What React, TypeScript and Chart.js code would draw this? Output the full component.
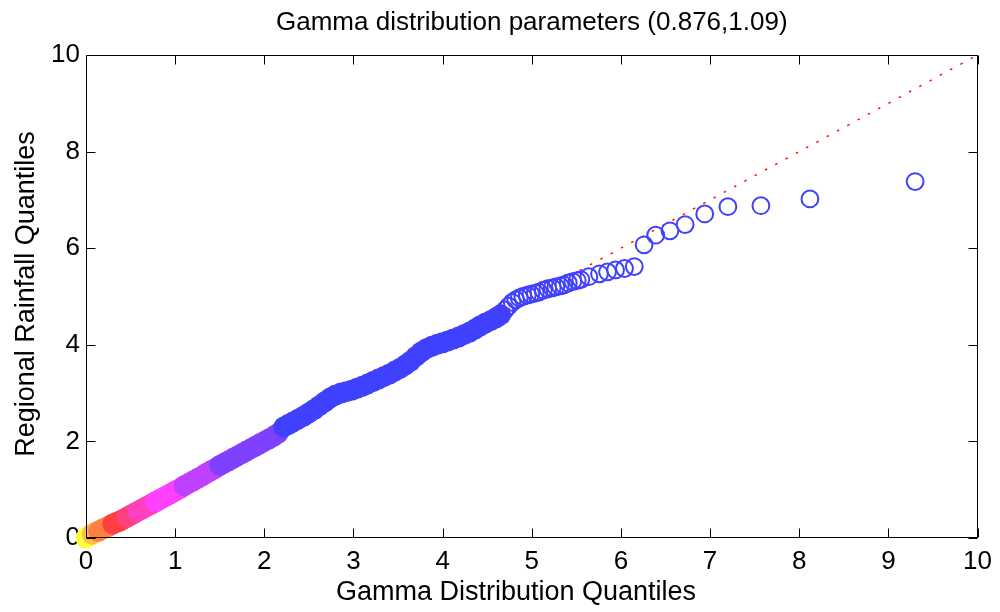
import { useEffect, useRef } from "react";
import { Chart, registerables } from "chart.js";

Chart.register(...registerables);

const FONT = '"Liberation Sans", Arial, Helvetica, sans-serif';

const chartTitle = "Gamma distribution parameters (0.876,1.09)";
const xAxisTitle = "Gamma Distribution Quantiles";
const yAxisTitle = "Regional Rainfall Quantiles";

const xTickValues = [0, 1, 2, 3, 4, 5, 6, 7, 8, 9, 10];
const yTickValues = [0, 2, 4, 6, 8, 10];

// Theoretical gamma quantiles (x) and sorted regional rainfall (y)
const gammaQuantiles = [
  0.0, 0.02, 0.04,
  0.07, 0.1,
  0.14, 0.18, 0.22, 0.26,
  0.3, 0.34, 0.38, 0.42,
  0.46, 0.5, 0.54,
  0.58, 0.62, 0.66, 0.7, 0.74,
  0.78, 0.82, 0.86, 0.9, 0.94, 0.98, 1.02, 1.06,
  1.1, 1.15, 1.2, 1.25, 1.3, 1.35, 1.4, 1.45,
  1.5, 1.55, 1.6, 1.65, 1.7, 1.75, 1.8, 1.85, 1.9, 1.95, 2.0, 2.05, 2.1, 2.15,
  2.22, 2.27, 2.32, 2.38, 2.44, 2.5, 2.56, 2.62, 2.68, 2.74, 2.8, 2.86, 2.92, 2.98,
  3.04, 3.1, 3.16, 3.22, 3.28, 3.34, 3.4, 3.46, 3.52, 3.58, 3.64, 3.7, 3.76, 3.82,
  3.88, 3.94, 4.0, 4.06, 4.12, 4.18, 4.24, 4.3, 4.36, 4.42, 4.48, 4.54, 4.6, 4.65,
  4.7, 4.74, 4.78, 4.82, 4.86, 4.9, 4.95, 4.99, 5.04, 5.08, 5.13, 5.18, 5.23, 5.27,
  5.32, 5.36, 5.41, 5.46, 5.51, 5.55, 5.64, 5.76, 5.85, 5.94, 6.04, 6.15, 6.26, 6.39,
  6.55, 6.72, 6.94, 7.2, 7.57, 8.12, 9.3,
];
const rainfallQuantiles = [
  0.0, 0.03, 0.05,
  0.08, 0.11,
  0.14, 0.18, 0.21, 0.25,
  0.29, 0.32, 0.35, 0.39,
  0.43, 0.47, 0.51,
  0.55, 0.59, 0.63, 0.67, 0.71,
  0.75, 0.79, 0.83, 0.87, 0.91, 0.95, 0.99, 1.03,
  1.08, 1.13, 1.18, 1.23, 1.28, 1.34, 1.39, 1.44,
  1.5, 1.55, 1.6, 1.65, 1.7, 1.75, 1.8, 1.85, 1.9, 1.95, 2.0, 2.05, 2.1, 2.16,
  2.3, 2.35, 2.4, 2.46, 2.52, 2.59, 2.66, 2.74, 2.82, 2.9, 2.96, 3.0, 3.03, 3.06,
  3.1, 3.14, 3.19, 3.24, 3.29, 3.34, 3.39, 3.45, 3.51, 3.58, 3.66, 3.76, 3.85, 3.92,
  3.97, 4.01, 4.04, 4.08, 4.12, 4.16, 4.21, 4.26, 4.32, 4.39, 4.45, 4.5, 4.56, 4.62,
  4.72, 4.8, 4.88, 4.93, 4.97, 5.0, 5.03, 5.05, 5.07, 5.09, 5.13, 5.16, 5.18, 5.2,
  5.22, 5.24, 5.28, 5.31, 5.33, 5.35, 5.41, 5.47, 5.51, 5.55, 5.58, 5.62, 6.07, 6.27,
  6.36, 6.49, 6.71, 6.86, 6.88, 7.02, 7.38,
];

// Consecutive colour classes along the sorted sample
const classSizes = [3, 2, 4, 4, 3, 5, 8, 8, 14, 42, 35];
const classColors = [
  "#ffff40", "#ffbf40", "#ff8040", "#ff4040", "#ff4080", "#ff40bf",
  "#ff40ff", "#bf40ff", "#8040ff", "#4040ff", "#4040ff",
];
const classFilled = [true, true, true, true, true, true, true, true, true, true, false];

// Reference line y = x
const refLineX = [0, 10];
const refLineY = [0, 10];

const axesDecor = {
  id: "axesDecor",
  afterDatasetsDraw(chart: any) {
    const { ctx, chartArea: a, scales } = chart;
    const L = Math.round(a.left) + 0.5;
    const R = Math.round(a.right) - 0.5;
    const T = Math.round(a.top) + 0.5;
    const B = Math.round(a.bottom) - 0.5;
    const tick = 9;
    ctx.save();
    ctx.strokeStyle = "#000";
    ctx.lineWidth = 1;
    ctx.beginPath();
    ctx.rect(L, T, R - L, B - T);
    for (const v of xTickValues) {
      const px = Math.round(scales.x.getPixelForValue(v)) + 0.5;
      ctx.moveTo(px, B);
      ctx.lineTo(px, B - tick);
      ctx.moveTo(px, T);
      ctx.lineTo(px, T + tick);
    }
    for (const v of yTickValues) {
      const py = Math.round(scales.y.getPixelForValue(v)) + 0.5;
      ctx.moveTo(L, py);
      ctx.lineTo(L + tick, py);
      ctx.moveTo(R, py);
      ctx.lineTo(R - tick, py);
    }
    ctx.stroke();
    ctx.restore();
  },
  afterDraw(chart: any) {
    const { ctx, chartArea: a } = chart;
    const cx = (a.left + a.right) / 2;
    const cy = (a.top + a.bottom) / 2;
    ctx.save();
    ctx.fillStyle = "#000";
    ctx.textAlign = "center";
    ctx.textBaseline = "middle";
    ctx.font = `26px ${FONT}`;
    ctx.fillText(chartTitle, cx, 23);
    ctx.font = `27px ${FONT}`;
    ctx.fillText(xAxisTitle, 516, 593);
    ctx.translate(27, 294);
    ctx.rotate(-Math.PI / 2);
    ctx.fillText(yAxisTitle, 0, 0);
    ctx.restore();
  },
};

export default function App() {
  const canvasRef = useRef<HTMLCanvasElement | null>(null);

  useEffect(() => {
    const canvas = canvasRef.current;
    if (!canvas) return;

    const datasets: any[] = [];
    let start = 0;
    classSizes.forEach((n, i) => {
      const pts = gammaQuantiles
        .slice(start, start + n)
        .map((x, j) => ({ x, y: rainfallQuantiles[start + j] }));
      start += n;
      const filled = classFilled[i];
      datasets.push({
        type: "scatter",
        data: pts,
        pointRadius: filled ? 10.5 : 8.4,
        pointHoverRadius: filled ? 10.5 : 8.4,
        backgroundColor: filled ? classColors[i] : "rgba(0,0,0,0)",
        borderColor: classColors[i],
        borderWidth: filled ? 0 : 2,
        clip: false,
        order: classSizes.length - i,
      });
    });
    datasets.push({
      type: "line",
      data: refLineX.map((x, i) => ({ x, y: refLineY[i] })),
      borderColor: "#ff0000",
      borderWidth: 1.4,
      borderDash: [2.5, 9.2],
      pointRadius: 0,
      fill: false,
      order: 100,
    });

    const chart = new Chart(canvas, {
      type: "scatter",
      data: { datasets },
      options: {
        responsive: false,
        animation: false,
        devicePixelRatio: 1,
        layout: { padding: { top: 55, right: 21, left: 0, bottom: 0 } },
        plugins: {
          legend: { display: false },
          tooltip: { enabled: false },
          title: { display: false },
        },
        scales: {
          x: {
            type: "linear",
            min: 0,
            max: 10,
            afterBuildTicks: (s: any) => {
              s.ticks = xTickValues.map((v) => ({ value: v }));
            },
            afterFit: (s: any) => {
              s.height = 74;
            },
            grid: { display: false, drawTicks: false },
            border: { display: false },
            ticks: {
              autoSkip: false,
              maxRotation: 0,
              padding: 8,
              color: "#000",
              font: { family: FONT, size: 26 },
            },
          },
          y: {
            type: "linear",
            min: 0,
            max: 10,
            afterBuildTicks: (s: any) => {
              s.ticks = yTickValues.map((v) => ({ value: v }));
            },
            afterFit: (s: any) => {
              s.width = 86;
            },
            grid: { display: false, drawTicks: false },
            border: { display: false },
            ticks: {
              autoSkip: false,
              padding: 6,
              color: "#000",
              font: { family: FONT, size: 26 },
            },
          },
        },
      },
      plugins: [axesDecor],
    });

    return () => chart.destroy();
  }, []);

  return (
    <div style={{ position: "fixed", left: 0, top: 0, width: 1000, height: 612, background: "#fff" }}>
      <canvas ref={canvasRef} width={1000} height={612} style={{ display: "block" }} />
    </div>
  );
}
